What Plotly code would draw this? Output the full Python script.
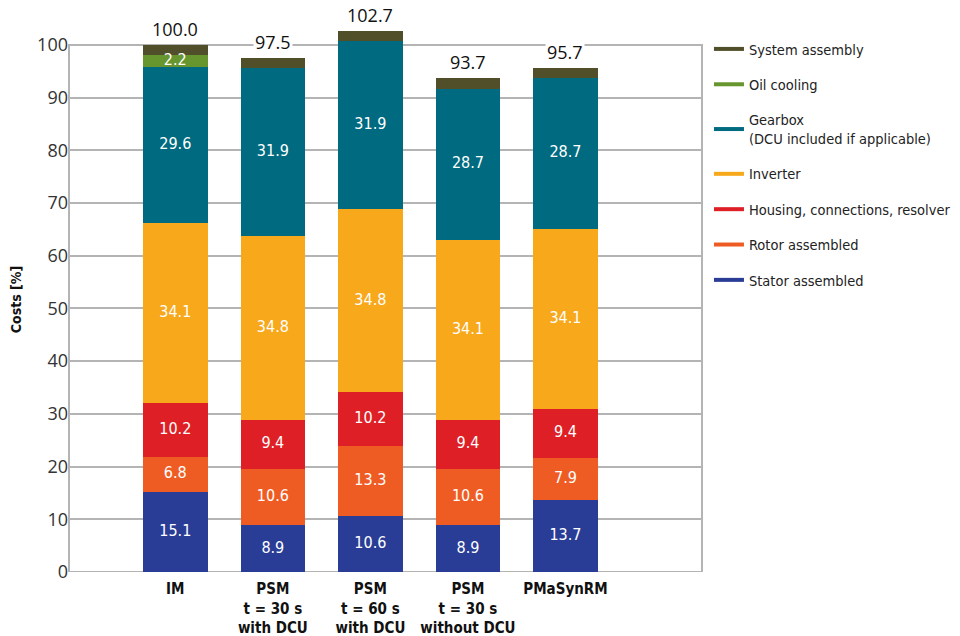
"""Cost breakdown of drive train variants, stacked bar chart."""

import numpy as np
import plotly.graph_objects as go

CATEGORIES = [
    "IM",
    "PSM<br>t = 30 s<br>with DCU",
    "PSM<br>t = 60 s<br>with DCU",
    "PSM<br>t = 30 s<br>without DCU",
    "PMaSynRM",
]

# stacked from the bottom up
STATOR = [15.1, 8.9, 10.6, 8.9, 13.7]
ROTOR = [6.8, 10.6, 13.3, 10.6, 7.9]
HOUSING = [10.2, 9.4, 10.2, 9.4, 9.4]
INVERTER = [34.1, 34.8, 34.8, 34.1, 34.1]
GEARBOX = [29.6, 31.9, 31.9, 28.7, 28.7]
OIL_COOLING = [2.2, 0.0, 0.0, 0.0, 0.0]
SYSTEM_ASSEMBLY = [2.0, 1.9, 1.9, 2.0, 1.9]

TOTALS = [100.0, 97.5, 102.7, 93.7, 95.7]

SEGMENTS = [
    ("Stator assembled", STATOR, "#2a3d96", True),
    ("Rotor assembled", ROTOR, "#ef5c23", True),
    ("Housing, connections, resolver", HOUSING, "#de1f26", True),
    ("Inverter", INVERTER, "#f7a81b", True),
    ("Gearbox<br>(DCU included if applicable)", GEARBOX, "#006a80", True),
    ("Oil cooling", OIL_COOLING, "#67952e", True),
    ("System assembly", SYSTEM_ASSEMBLY, "#514f2a", False),
]

NARROW = "DejaVu Sans Condensed, Liberation Sans Narrow, sans-serif"
REGULAR = "Open Sans, Noto Sans, sans-serif"
GRID = "#b4b4b4"

# the page body has an 8px margin, so the figure is drawn a bit smaller
PAGE_PAD = 8

fig = go.Figure()

base = np.zeros(len(CATEGORIES))
for name, values, color, labelled in SEGMENTS:
    values = np.array(values)
    fig.add_trace(
        go.Bar(
            x=CATEGORIES,
            y=values,
            marker=dict(color=color, line=dict(width=0)),
            width=0.66,
            showlegend=False,
            hoverinfo="skip",
        )
    )
    if labelled:
        mask = values > 0
        fig.add_trace(
            go.Scatter(
                x=[c for c, m in zip(CATEGORIES, mask) if m],
                y=(base + values / 2)[mask],
                mode="text",
                text=[f"{v:.1f}" for v in values[mask]],
                textfont=dict(family=NARROW, size=16, color="white"),
                showlegend=False,
                cliponaxis=False,
                hoverinfo="skip",
            )
        )
    base = base + values

# legend with short line markers, top entry first
for i, (name, values, color, labelled) in enumerate(reversed(SEGMENTS)):
    fig.add_trace(
        go.Scatter(
            x=[None],
            y=[None],
            mode="lines",
            line=dict(color=color, width=4),
            name=name,
            legendgroup=f"g{i}",
        )
    )

for cat, total in zip(CATEGORIES, TOTALS):
    fig.add_annotation(
        x=cat,
        y=total,
        yanchor="bottom",
        text=f"{total:.1f}",
        showarrow=False,
        bgcolor="white",
        font=dict(family=REGULAR, size=18, color="#111"),
        borderpad=1,
        yshift=2,
    )

# plot frame, closed at 100 %
fig.add_shape(
    type="rect",
    xref="paper",
    yref="y",
    x0=0,
    x1=1,
    y0=0,
    y1=100,
    line=dict(color=GRID, width=2),
    layer="below",
)

fig.update_layout(
    barmode="stack",
    width=960 - PAGE_PAD,
    height=636 - PAGE_PAD,
    margin=dict(l=69 - PAGE_PAD, r=258, t=27 - PAGE_PAD, b=64, autoexpand=False),
    plot_bgcolor="white",
    paper_bgcolor="white",
    bargap=0,
    legend=dict(
        x=1.011,
        xanchor="left",
        y=0.989,
        yanchor="top",
        traceorder="grouped",
        tracegroupgap=13.5,
        font=dict(family=NARROW, size=14.5, color="#222"),
        itemwidth=30,
    ),
)
fig.update_xaxes(
    range=[-1.09, 5.4],
    showgrid=False,
    showline=False,
    ticks="",
    tickangle=0,
    automargin=False,
    ticklabelstandoff=6,
    tickfont=dict(family=NARROW, size=15, color="#111", weight="bold"),
)
fig.update_yaxes(
    range=[0, 103.4],
    tickvals=list(range(0, 101, 10)),
    showgrid=True,
    gridcolor=GRID,
    gridwidth=1.5,
    showline=False,
    zeroline=False,
    ticks="",
    automargin=False,
    tickfont=dict(family=REGULAR, size=18, color="#333"),
    title=dict(
        text="Costs [%]",
        font=dict(family=NARROW, size=14, color="#111", weight="bold"),
        standoff=12,
    ),
)

fig.write_html("out.html")
